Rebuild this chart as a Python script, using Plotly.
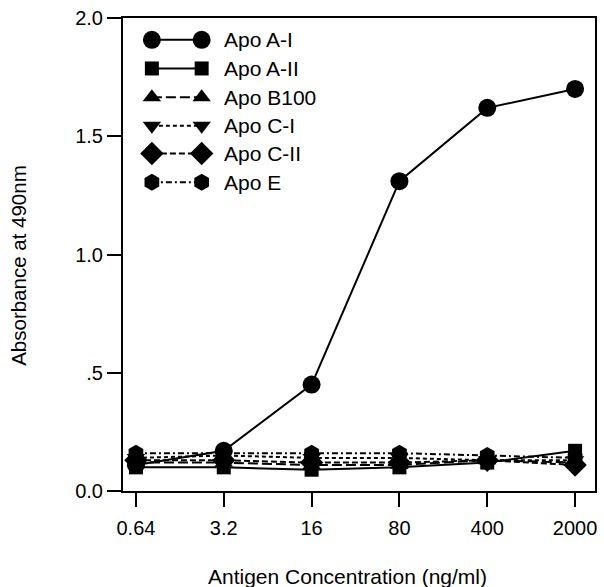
import plotly.graph_objects as go

# ---- data ----
concentrations = [0.64, 3.2, 16, 80, 400, 2000]
conc_labels = ["0.64", "3.2", "16", "80", "400", "2000"]
apo_a1 = [0.11, 0.17, 0.45, 1.31, 1.62, 1.70]
apo_a2 = [0.10, 0.10, 0.09, 0.10, 0.12, 0.17]
apo_b100 = [0.12, 0.12, 0.11, 0.11, 0.13, 0.12]
apo_c1 = [0.14, 0.15, 0.14, 0.14, 0.13, 0.13]
apo_c2 = [0.13, 0.13, 0.12, 0.12, 0.13, 0.11]
apo_e = [0.16, 0.16, 0.16, 0.16, 0.15, 0.14]
y_tickvals = [0, 0.5, 1.0, 1.5, 2.0]
y_ticktext = ["0.0", ".5", "1.0", "1.5", "2.0"]

series = [
    ("Apo A-I", apo_a1, "circle", 18, "solid"),
    ("Apo A-II", apo_a2, "square", 14, "solid"),
    ("Apo B100", apo_b100, "triangle-up", 16, "10px,4px"),
    ("Apo C-I", apo_c1, "triangle-down", 16, "4px,3px"),
    ("Apo C-II", apo_c2, "diamond", 18, "6px,3px"),
    ("Apo E", apo_e, "hexagon", 17, "6px,3px,2px,3px"),
]

FONT = "Liberation Sans, Arial, Helvetica, sans-serif"
fig = go.Figure()

# draw lower series first so A-I stays on top
for name, vals, sym, size, dash in reversed(series):
    fig.add_trace(go.Scatter(
        x=concentrations, y=vals, mode="lines+markers", name=name,
        line=dict(color="black", width=2, dash=dash),
        marker=dict(symbol=sym, size=size, color="black"),
        showlegend=False, cliponaxis=False,
    ))

# custom legend (marker - line - marker), drawn on a hidden overlay axis
legend_rows = [35, 64, 93, 122, 150, 179]
for (name, vals, sym, size, dash), ry in zip(series, legend_rows):
    fig.add_trace(go.Scatter(
        x=[152, 202], y=[ry, ry], mode="lines+markers",
        line=dict(color="black", width=2, dash=dash),
        marker=dict(symbol=sym, size=size, color="black"),
        xaxis="x2", yaxis="y2", showlegend=False, hoverinfo="skip",
    ))
    fig.add_annotation(x=222, y=ry, xref="x2", yref="y2", text=name,
                       showarrow=False, xanchor="left", yanchor="middle",
                       font=dict(family=FONT, size=21, color="black"))

# axis titles placed as paper-referenced annotations
fig.add_annotation(x=0.4747, y=-0.1799, xref="paper", yref="paper",
                   text="Antigen Concentration (ng/ml)", showarrow=False,
                   xanchor="center", yanchor="middle",
                   font=dict(family=FONT, size=21, color="black"))
fig.add_annotation(x=-0.2215, y=0.477, xref="paper", yref="paper",
                   text="Absorbance at 490nm", showarrow=False, textangle=-90,
                   xanchor="center", yanchor="middle",
                   font=dict(family=FONT, size=20.5, color="black"))

fig.update_layout(
    width=604, height=587,
    margin=dict(l=123, r=7, t=13, b=96),
    paper_bgcolor="white", plot_bgcolor="white",
    font=dict(family=FONT, size=20, color="black"),
    xaxis=dict(
        type="log", range=[-0.2968, 3.4595],
        tickvals=concentrations, ticktext=conc_labels,
        ticks="outside", ticklen=14, tickwidth=2, tickcolor="black",
        showline=True, linewidth=2, linecolor="black", mirror=True,
        showgrid=False, zeroline=False,
        ticklabelstandoff=4,
    ),
    yaxis=dict(
        range=[0, 2.0],
        tickvals=y_tickvals, ticktext=y_ticktext,
        ticks="outside", ticklen=14, tickwidth=2, tickcolor="black",
        showline=True, linewidth=2, linecolor="black", mirror=True,
        showgrid=False, zeroline=False,
    ),
    xaxis2=dict(range=[123, 597], overlaying="x", visible=False, domain=[0, 1]),
    yaxis2=dict(range=[491, 13], overlaying="y", visible=False, domain=[0, 1]),
)

fig.write_html("out.html")
